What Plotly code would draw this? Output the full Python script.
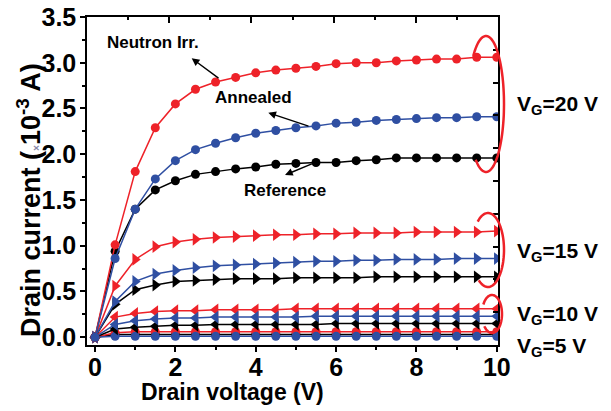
import numpy as np
import plotly.graph_objects as go

# ---------------- data ----------------
vd = [0, 0.5, 1.0, 1.5, 2.0, 2.5, 3.0, 3.5, 4.0, 4.5, 5.0, 5.5, 6.0, 6.5, 7.0, 7.5, 8.0, 8.5, 9.0, 9.5, 10.0]

irr_vg20 = [0, 1.01, 1.81, 2.29, 2.55, 2.71, 2.79, 2.84, 2.89, 2.92, 2.94, 2.96, 2.99, 3.00, 3.00, 3.02, 3.03, 3.04, 3.04, 3.06, 3.06]
ann_vg20 = [0, 0.86, 1.40, 1.73, 1.93, 2.05, 2.12, 2.18, 2.23, 2.26, 2.29, 2.31, 2.34, 2.35, 2.37, 2.38, 2.39, 2.40, 2.40, 2.41, 2.41]
ref_vg20 = [0, 0.94, 1.40, 1.61, 1.71, 1.78, 1.81, 1.84, 1.86, 1.89, 1.90, 1.91, 1.91, 1.93, 1.94, 1.96, 1.96, 1.96, 1.96, 1.96, 1.96]

irr_vg15 = [0, 0.56, 0.85, 0.99, 1.04, 1.07, 1.09, 1.10, 1.11, 1.12, 1.12, 1.13, 1.13, 1.14, 1.14, 1.14, 1.15, 1.15, 1.15, 1.15, 1.16]
ann_vg15 = [0, 0.39, 0.61, 0.69, 0.73, 0.76, 0.78, 0.79, 0.80, 0.81, 0.82, 0.83, 0.83, 0.84, 0.84, 0.85, 0.85, 0.85, 0.86, 0.86, 0.86]
ref_vg15 = [0, 0.36, 0.52, 0.57, 0.61, 0.62, 0.63, 0.64, 0.64, 0.64, 0.65, 0.65, 0.65, 0.65, 0.66, 0.66, 0.66, 0.66, 0.66, 0.66, 0.66]

irr_vg10 = [0, 0.22, 0.26, 0.28, 0.29, 0.29, 0.30, 0.30, 0.30, 0.30, 0.31, 0.31, 0.31, 0.31, 0.31, 0.31, 0.31, 0.31, 0.31, 0.31, 0.31]
ann_vg10 = [0, 0.14, 0.18, 0.20, 0.21, 0.21, 0.22, 0.22, 0.22, 0.22, 0.22, 0.23, 0.23, 0.23, 0.23, 0.23, 0.23, 0.23, 0.23, 0.23, 0.23]
ref_vg10 = [0, 0.09, 0.11, 0.12, 0.13, 0.13, 0.14, 0.14, 0.14, 0.14, 0.14, 0.14, 0.15, 0.15, 0.15, 0.15, 0.15, 0.15, 0.15, 0.15, 0.15]

irr_vg5 = [0, 0.05, 0.06, 0.06, 0.06, 0.06, 0.06, 0.06, 0.06, 0.06, 0.06, 0.06, 0.06, 0.06, 0.06, 0.06, 0.06, 0.06, 0.06, 0.06, 0.06]
ann_vg5 = [0, 0.01, 0.01, 0.01, 0.01, 0.01, 0.01, 0.01, 0.01, 0.01, 0.01, 0.01, 0.01, 0.01, 0.01, 0.01, 0.01, 0.01, 0.01, 0.01, 0.01]
ref_vg5 = [0, 0.03, 0.03, 0.03, 0.03, 0.03, 0.03, 0.03, 0.03, 0.03, 0.03, 0.03, 0.03, 0.03, 0.03, 0.03, 0.03, 0.03, 0.03, 0.03, 0.03]

x_ticks = [0, 2, 4, 6, 8, 10]
x_ticklabels = ["0", "2", "4", "6", "8", "10"]
y_ticks = [0.0, 0.5, 1.0, 1.5, 2.0, 2.5, 3.0, 3.5]
y_ticklabels = ["0.0", "0.5", "1.0", "1.5", "2.0", "2.5", "3.0", "3.5"]

RED = "#EE2229"
BLUE = "#2F4FA2"
BLACK = "#000000"
FONT = "Liberation Sans, Arial, sans-serif"

# pixel -> paper helpers (plot area: x 87..498, y 17..345)
L, R, T, B = 87, 498, 17, 345
def px(x):
    return (x - L) / (R - L)
def py(y):
    return (B - y) / (B - T)

fig = go.Figure()

groups = [
    ("circle", 9, [(ref_vg5, BLACK), (irr_vg5, RED), (ann_vg5, BLUE)]),
    ("triangle-left", 11, [(ref_vg10, BLACK), (irr_vg10, RED), (ann_vg10, BLUE)]),
    ("triangle-right", 11, [(ref_vg15, BLACK), (irr_vg15, RED), (ann_vg15, BLUE)]),
    ("circle", 9, [(ref_vg20, BLACK), (irr_vg20, RED), (ann_vg20, BLUE)]),
]
for sym, size, series in groups:
    for ys, col in series:
        fig.add_trace(go.Scatter(
            x=vd, y=ys, mode="lines+markers",
            line=dict(color=col, width=1.5),
            marker=dict(symbol=sym, size=size, color=col, line=dict(width=0)),
            showlegend=False, hoverinfo="skip"))

# invisible trace for mirror axes
fig.add_trace(go.Scatter(x=[0], y=[0], xaxis="x2", yaxis="y2", mode="markers",
                         marker=dict(opacity=0), showlegend=False, hoverinfo="skip"))

axis_common = dict(showgrid=False, zeroline=False, showline=True, linecolor="black",
                   linewidth=1.5, tickcolor="black", tickwidth=1.5, automargin=False)

fig.update_layout(
    width=611, height=411,
    margin=dict(l=L, r=611 - R, t=T, b=411 - B, autoexpand=False),
    plot_bgcolor="white", paper_bgcolor="white",
    font=dict(family=FONT, color="black"),
    xaxis=dict(range=[-0.2, 10.03], tickvals=x_ticks,
               ticktext=["<b>%s</b>" % t for t in x_ticklabels],
               ticks="outside", ticklen=5, ticklabelstandoff=-6,
               tickfont=dict(size=25, family=FONT, color="black"),
               minor=dict(dtick=1, ticks="outside", ticklen=3, tickcolor="black", tickwidth=1.5),
               **axis_common),
    yaxis=dict(range=[-0.085, 3.5], tickvals=y_ticks,
               ticktext=["<b>%s</b>" % t for t in y_ticklabels],
               ticks="outside", ticklen=5, ticklabelstandoff=-1,
               tickfont=dict(size=25, family=FONT, color="black"),
               minor=dict(dtick=0.25, ticks="outside", ticklen=3, tickcolor="black", tickwidth=1.5),
               **axis_common),
    xaxis2=dict(overlaying="x", side="top", range=[0, 10], tickvals=[0, 2, 4, 6, 8, 10],
                ticks="inside", ticklen=6, showticklabels=False,
                minor=dict(dtick=1, ticks="inside", ticklen=3, tickcolor="black", tickwidth=1.5),
                **axis_common),
    yaxis2=dict(overlaying="y", side="right", range=[0, 10], dtick=1,
                ticks="inside", ticklen=5, showticklabels=False, **axis_common),
)

ann = []
# axis titles
ann.append(dict(x=px(29), y=py(200), xref="paper", yref="paper", textangle=-90,
                xanchor="center", yanchor="middle",
                text="<b>Drain current (<span style='font-size:10px;color:#8888aa'>×</span>10<sup>-3</sup> A)</b>",
                showarrow=False, font=dict(size=27, family=FONT, color="black")))
ann.append(dict(x=px(232), y=py(392), xref="paper", yref="paper",
                xanchor="center", yanchor="middle",
                text="<b>Drain voltage (V)</b>", showarrow=False,
                font=dict(size=23, family=FONT, color="black")))
# curve labels
for txt, cx, cy in [("Neutron Irr.", 153, 43), ("Annealed", 253, 97), ("Reference", 285, 190)]:
    ann.append(dict(x=px(cx), y=py(cy), xref="paper", yref="paper", text="<b>%s</b>" % txt,
                    xanchor="center", yanchor="middle",
                    showarrow=False, font=dict(size=17, family=FONT, color="black")))
# arrows
for hx, hy, tx, ty in [(191.7, 58.3, 220, 79.3), (268.3, 112.7, 310, 126.7), (285, 175, 313.3, 163.3)]:
    ann.append(dict(x=px(hx), y=py(hy), xref="paper", yref="paper", ax=tx - hx, ay=ty - hy,
                    axref="pixel", ayref="pixel", text="", showarrow=True,
                    arrowhead=2, arrowsize=1.1, arrowwidth=1.4, arrowcolor="black"))
# VG labels
for txt, cy in [("20", 105), ("15", 251.7), ("10", 315), ("5", 346.7)]:
    ann.append(dict(x=px(515), y=py(cy), xref="paper", yref="paper",
                    xanchor="left", yanchor="middle",
                    text="<b>V<sub>G</sub>=%s V</b>" % txt, showarrow=False,
                    font=dict(size=21, family=FONT, color="black")))
fig.update_layout(annotations=ann)

# red ellipse arcs
def arc(cx, cy, rx, ry, t0, t1):
    t = np.radians(np.linspace(t0, t1, 80))
    xs = cx + rx * np.cos(t)
    ys = cy + ry * np.sin(t)
    pts = ["%s%.4f,%.4f" % ("M" if i == 0 else "L", px(a), py(b)) for i, (a, b) in enumerate(zip(xs, ys))]
    return " ".join(pts)

shapes = []
for cx, cy, rx, ry, t0, t1 in [(486, 104, 18, 68, -135, 125), (488, 250, 16, 37, -130, 125), (492, 314, 10, 19, -150, 140)]:
    shapes.append(dict(type="path", xref="paper", yref="paper", path=arc(cx, cy, rx, ry, t0, t1),
                       line=dict(color=RED, width=2.5)))
fig.update_layout(shapes=shapes)

fig.write_html("out.html", config={"displayModeBar": False},
               post_script="document.body.style.margin='0';document.body.style.padding='0';")
